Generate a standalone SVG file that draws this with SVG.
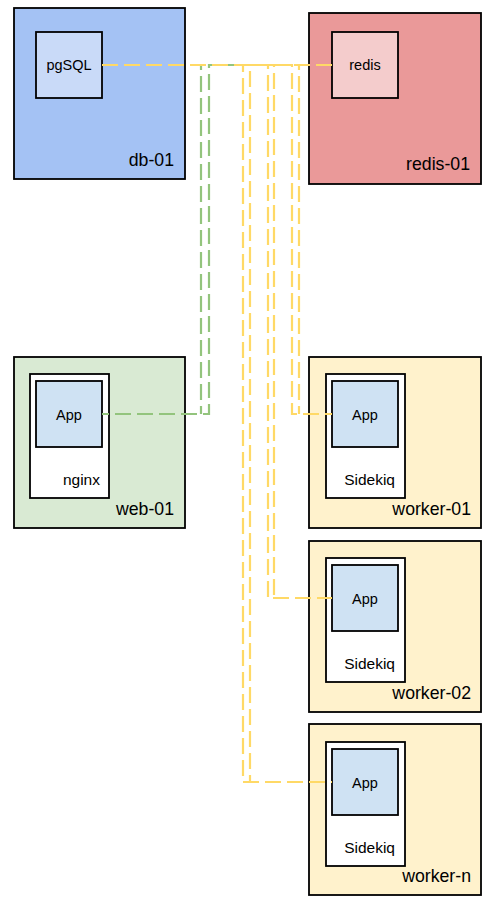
<svg xmlns="http://www.w3.org/2000/svg" width="495" height="908" viewBox="0 0 495 908">
<style>
.box{stroke:#000;stroke-width:1.8}
.host{font-family:"Liberation Sans",Arial,sans-serif;font-size:17.7px;text-anchor:end;fill:#000}
.svc{font-family:"Liberation Sans",Arial,sans-serif;font-size:15.5px;text-anchor:end;fill:#000}
.nm{font-family:"Liberation Sans",Arial,sans-serif;font-size:14.5px;text-anchor:middle;fill:#000}
.c{fill:none;stroke-width:2.2;stroke-dasharray:16 6}
.g{stroke:#93c47d}
.y{stroke:#ffd966}
.white{fill:#fff}
.app{fill:#cfe2f3}
.worker{fill:#fff2cc}
</style>
<rect width="495" height="908" fill="#fff"/>
<g id="db-01">
<rect class="box" x="14" y="8" width="171" height="171" fill="#a4c2f4"/>
<text class="host" x="174" y="166">db-01</text>
</g>
<g id="pgSQL">
<rect class="box" x="36" y="32" width="66" height="66" fill="#c9daf8"/>
<text class="nm" x="69" y="70">pgSQL</text>
</g>
<g id="redis-01">
<rect class="box" x="309" y="13" width="172" height="171" fill="#ea9999"/>
<text class="host" x="470" y="170">redis-01</text>
</g>
<g id="redis">
<rect class="box" x="332" y="32" width="66" height="66" fill="#f4cccc"/>
<text class="nm" x="365" y="70">redis</text>
</g>
<g id="web-01">
<rect class="box" x="14" y="357" width="171" height="171" fill="#d9ead3"/>
<text class="host" x="174" y="515">web-01</text>
<rect class="box white" x="30" y="374" width="79" height="124"/>
<text class="svc" x="100" y="485">nginx</text>
<rect class="box app" x="36" y="381" width="66" height="66"/>
<text class="nm" x="69" y="420">App</text>
</g>
<g id="worker-01">
<rect class="box worker" x="309" y="357" width="172" height="171"/>
<text class="host" x="471" y="515">worker-01</text>
<rect class="box white" x="326" y="374" width="79" height="124"/>
<text class="svc" x="395" y="485">Sidekiq</text>
<rect class="box app" x="332" y="381" width="66" height="66"/>
<text class="nm" x="365" y="420">App</text>
</g>
<g id="worker-02">
<rect class="box worker" x="309" y="541" width="172" height="171"/>
<text class="host" x="471" y="699">worker-02</text>
<rect class="box white" x="326" y="558" width="79" height="124"/>
<text class="svc" x="395" y="669">Sidekiq</text>
<rect class="box app" x="332" y="565" width="66" height="66"/>
<text class="nm" x="365" y="604">App</text>
</g>
<g id="worker-n">
<rect class="box worker" x="309" y="724" width="172" height="171"/>
<text class="host" x="471" y="882">worker-n</text>
<rect class="box white" x="326" y="742" width="79" height="124"/>
<text class="svc" x="395" y="853">Sidekiq</text>
<rect class="box app" x="332" y="749" width="66" height="66"/>
<text class="nm" x="365" y="788">App</text>
</g>
<g id="connectors">
<path class="c g" d="M102,65 H201 V414"/>
<path class="c g" d="M332,65 H209 V414 H102"/>
<path class="c y" d="M102,65 H292 V414 H332"/>
<path class="c y" d="M332,65 H299 V414"/>
<path class="c y" d="M102,65 H268 V598 H332"/>
<path class="c y" d="M332,65 H274 V598"/>
<path class="c y" d="M102,65 H243 V782 H332"/>
<path class="c y" d="M332,65 H250 V782"/>
</g>
</svg>
